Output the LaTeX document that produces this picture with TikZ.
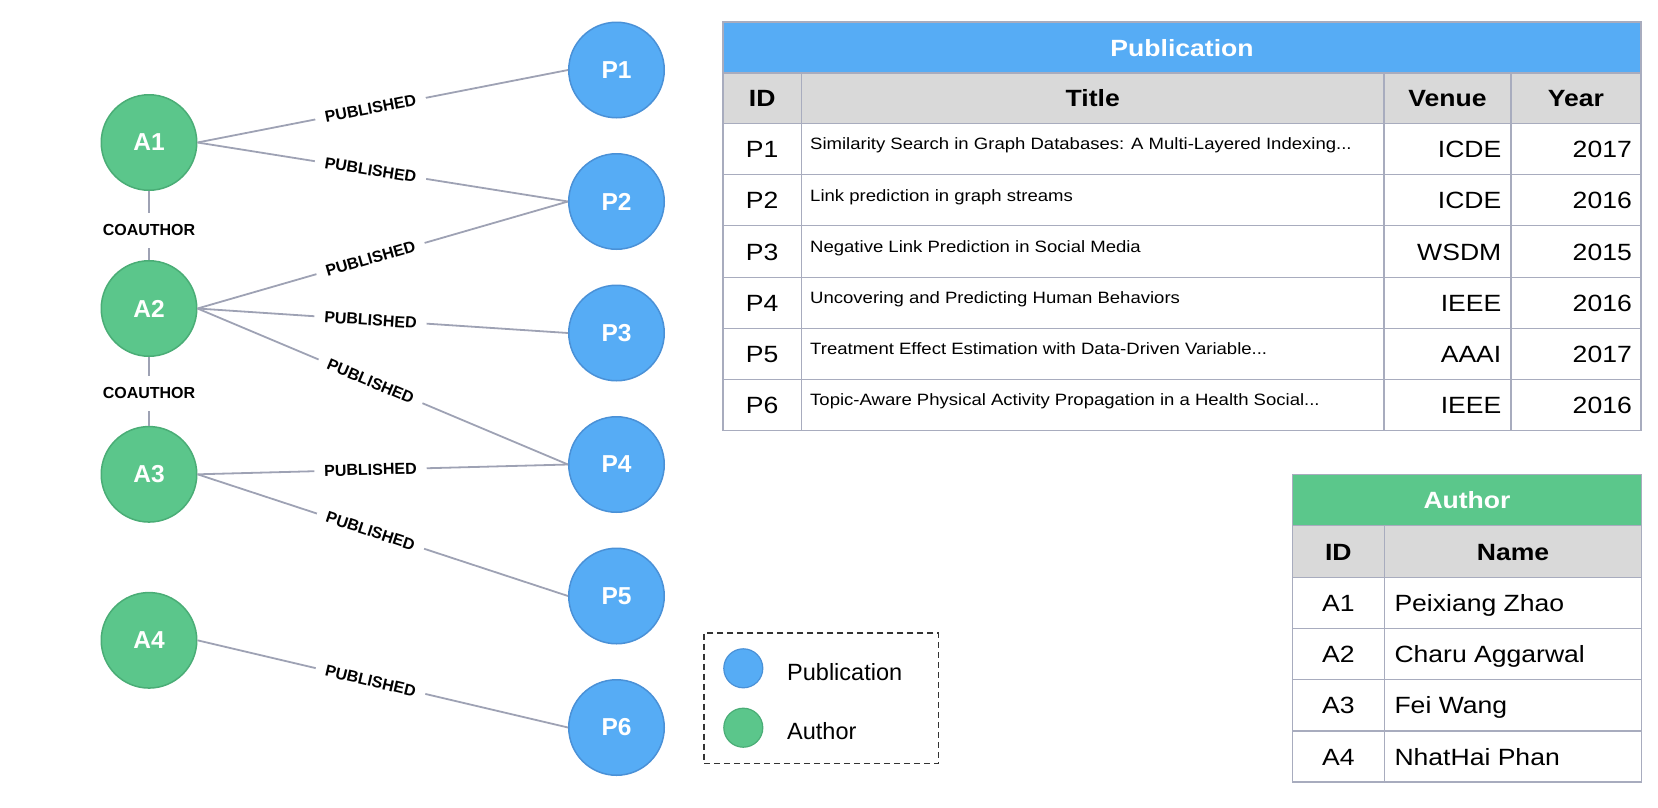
\documentclass[tikz,border=0pt]{standalone}
\usepackage{fontspec}
\setmainfont{Liberation Sans}
\newfontfamily\tabfont{Liberation Sans}[FakeStretch=1.13]
\definecolor{pubfill}{RGB}{86,172,245}
\definecolor{pubdraw}{RGB}{74,145,215}
\definecolor{authfill}{RGB}{91,198,139}
\definecolor{authdraw}{RGB}{74,173,118}
\definecolor{edgecol}{RGB}{158,162,180}
\definecolor{gridcol}{RGB}{168,172,190}
\definecolor{grayhead}{RGB}{217,217,217}
\definecolor{pubhead}{RGB}{86,172,245}
\definecolor{authhead}{RGB}{91,199,139}
\begin{document}
\begin{tikzpicture}[x=1pt,y=-1pt,
  pubnode/.style={circle,fill=pubfill,draw=pubdraw,line width=1.5pt,minimum size=95.5pt,inner sep=0pt,text=white,font=\fontsize{24.5}{24.5}\selectfont\bfseries},
  authnode/.style={pubnode,fill=authfill,draw=authdraw},
  rel/.style={draw=edgecol,line width=1.8pt},
  rellabel/.style={fill=white,text=black,font=\fontsize{16}{16}\selectfont\bfseries,inner xsep=10pt,inner ysep=2pt,sloped},
  colabel/.style={fill=white,text=black,font=\fontsize{16}{16}\selectfont\bfseries,inner xsep=4pt,inner ysep=11.5pt},
  gridline/.style={draw=gridcol,line width=1.3pt},
  bigtxt/.style={inner sep=0pt,font=\tabfont\fontsize{23.5}{23.5}\selectfont},
  bigbold/.style={inner sep=0pt,font=\tabfont\fontsize{23.5}{23.5}\selectfont\bfseries},
  smalltxt/.style={inner sep=0pt,anchor=base west,font=\tabfont\fontsize{16.4}{16.4}\selectfont},
  legtxt/.style={inner sep=0pt,font=\fontsize{23.5}{23.5}\selectfont},
  legdot/.style={circle,inner sep=0pt,minimum size=39pt,line width=1.2pt}
]
\useasboundingbox (0,0) rectangle (1658,807);

% ---------------- graph ----------------
\node[authnode] (A1) at (149,142.5) {A1};
\node[authnode] (A2) at (149,308.5) {A2};
\node[authnode] (A3) at (149,474.3) {A3};
\node[authnode] (A4) at (149,640.3) {A4};
\node[pubnode] (P1) at (616.5,70) {P1};
\node[pubnode] (P2) at (616.5,201.5) {P2};
\node[pubnode] (P3) at (616.5,333) {P3};
\node[pubnode] (P4) at (616.5,464.5) {P4};
\node[pubnode] (P5) at (616.5,596) {P5};
\node[pubnode] (P6) at (616.5,727.5) {P6};

\draw[rel] (A1.east) -- node[rellabel,pos=0.467] {PUBLISHED} (P1.west);
\draw[rel] (A1.east) -- node[rellabel,pos=0.467] {PUBLISHED} (P2.west);
\draw[rel] (A2.east) -- node[rellabel,pos=0.467] {PUBLISHED} (P2.west);
\draw[rel] (A2.east) -- node[rellabel,pos=0.467] {PUBLISHED} (P3.west);
\draw[rel] (A2.east) -- node[rellabel,pos=0.467] {PUBLISHED} (P4.west);
\draw[rel] (A3.east) -- node[rellabel,pos=0.467] {PUBLISHED} (P4.west);
\draw[rel] (A3.east) -- node[rellabel,pos=0.467] {PUBLISHED} (P5.west);
\draw[rel] (A4.east) -- node[rellabel,pos=0.467] {PUBLISHED} (P6.west);
\draw[rel] (A1.south) -- node[colabel,pos=0.57] {COAUTHOR} (A2.north);
\draw[rel] (A2.south) -- node[colabel,pos=0.53] {COAUTHOR} (A3.north);

% ---------------- legend ----------------
\node[draw=black!80,line width=1.6pt,dash pattern=on 6pt off 4pt,minimum width=234.3pt,minimum height=130.6pt,inner sep=0pt] (legend) at (821.2,698) {};
\node[legdot,fill=pubfill,draw=pubdraw] (lgpub) at (743.3,668.3) {};
\node[legdot,fill=authfill,draw=authdraw] (lgauth) at (743.3,727.7) {};
\node[legtxt,anchor=base west] (lgpubt) at (787,680) {Publication};
\node[legtxt,anchor=base west] (lgautht) at (787,739.3) {Author};

% ---------------- Publication table ----------------
\fill[pubhead] (723,22) rectangle (1641,73);
\fill[grayhead] (723,73) rectangle (1641,123.3);
\foreach \y in {73,123.3,174.3,225.7,277.3,328.3,379.3}
  \draw[gridline] (723,\y) -- (1641,\y);
\foreach \x in {801.5,1384,1511}
  \draw[gridline] (\x,73) -- (\x,430.3);
\draw[gridline] (723,22) rectangle (1641,430.3);

\node[bigbold,text=white,anchor=base] (pubtitle) at (1182,56) {Publication};
\node[bigbold,anchor=base] (hid) at (762.2,106.7) {ID};
\node[bigbold,anchor=base] (htitle) at (1092.7,106.7) {Title};
\node[bigbold,anchor=base] (hvenue) at (1447.5,106.7) {Venue};
\node[bigbold,anchor=base] (hyear) at (1576,106.7) {Year};

\foreach \i/\c/\v/\yr in {1/148.8/ICDE/2017, 2/200/ICDE/2016, 3/251.5/WSDM/2015,
  4/302.8/IEEE/2016, 5/353.8/AAAI/2017, 6/404.8/IEEE/2016}{
  \node[bigtxt,anchor=base] (pid\i) at (762.2,\c+8.6) {P\i};
  \node[bigtxt,anchor=base east] (pve\i) at (1501.5,\c+8.6) {\v};
  \node[bigtxt,anchor=base east] (pye\i) at (1632,\c+8.6) {\yr};
}
\node[smalltxt] (pti1) at (810,149.8) {Similarity Search in Graph Databases: A Multi-Layered Indexing...};
\node[smalltxt] (pti2) at (810,201) {Link prediction in graph streams};
\node[smalltxt] (pti3) at (810,252.5) {Negative Link Prediction in Social Media};
\node[smalltxt] (pti4) at (810,303.8) {Uncovering and Predicting Human Behaviors};
\node[smalltxt] (pti5) at (810,354.8) {Treatment Effect Estimation with Data-Driven Variable...};
\node[smalltxt] (pti6) at (810,405.8) {Topic-Aware Physical Activity Propagation in a Health Social...};

% ---------------- Author table ----------------
\fill[authhead] (1292.3,474.3) rectangle (1641.7,525.7);
\fill[grayhead] (1292.3,525.7) rectangle (1641.7,577.3);
\foreach \y in {525.7,577.3,628.5,679.7,730.9}
  \draw[gridline] (1292.3,\y) -- (1641.7,\y);
\draw[gridline] (1384.3,525.7) -- (1384.3,782);
\draw[gridline] (1292.3,474.3) rectangle (1641.7,782);

\node[bigbold,text=white,anchor=base] (authtitle) at (1467,508.6) {Author};
\node[bigbold,anchor=base] (ahid) at (1338.3,560) {ID};
\node[bigbold,anchor=base] (ahname) at (1513,560) {Name};
\foreach \i/\c/\n in {1/602.9/Peixiang Zhao, 2/654.1/Charu Aggarwal, 3/705.3/Fei Wang, 4/756.4/NhatHai Phan}{
  \node[bigtxt,anchor=base] (aid\i) at (1338.3,\c+8.6) {A\i};
  \node[bigtxt,anchor=base west] (anm\i) at (1394.3,\c+8.6) {\n};
}
\end{tikzpicture}
\end{document}
